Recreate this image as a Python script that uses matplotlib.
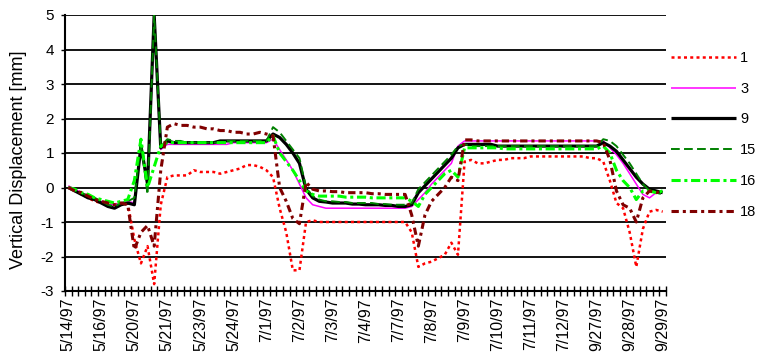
import numpy as np
import matplotlib
matplotlib.use("Agg")
import matplotlib.pyplot as plt

plt.rcParams['font.family'] = ['Liberation Sans', 'DejaVu Sans']

# ---------------- data ----------------
tick_labels = ["5/14/97", "5/16/97", "5/20/97", "5/21/97", "5/23/97", "5/24/97",
               "7/1/97", "7/2/97", "7/3/97", "7/4/97", "7/7/97", "7/8/97",
               "7/9/97", "7/10/97", "7/11/97", "7/12/97", "9/27/97", "9/28/97",
               "9/29/97"]
label_every = 5

series_names = ["1", "3", "9", "15", "16", "18"]

s1 = [0.0, -0.1, -0.2, -0.3, -0.4, -0.45, -0.5, -0.5, -0.45, -0.45,
      -1.5, -2.2, -1.7, -2.8, -0.5, 0.3, 0.35, 0.35, 0.35, 0.5,
      0.45, 0.45, 0.45, 0.4, 0.45, 0.5, 0.55, 0.65, 0.65, 0.6,
      0.5, 0.3, -0.6, -1.3, -2.4, -2.4, -1.0, -0.95, -1.0, -1.0,
      -1.0, -1.0, -1.0, -1.0, -1.0, -1.0, -1.0, -1.0, -1.0, -1.0,
      -1.0, -1.0, -1.3, -2.3, -2.2, -2.15, -2.05, -1.95, -1.6, -1.95,
      0.75, 0.8, 0.7, 0.7, 0.75, 0.8, 0.8, 0.85, 0.85, 0.85,
      0.9, 0.9, 0.9, 0.9, 0.9, 0.9, 0.9, 0.9, 0.9, 0.85,
      0.85, 0.75, 0.2, -0.45, -0.6, -1.3, -2.3, -1.2, -0.7, -0.65,
      -0.7]

s3 = [0.05, -0.05, -0.15, -0.25, -0.35, -0.4, -0.5, -0.5, -0.45, -0.4,
      -0.45, 1.2, 0.1, 4.9, 1.1, 1.25, 1.25, 1.25, 1.25, 1.25,
      1.25, 1.25, 1.25, 1.25, 1.25, 1.3, 1.3, 1.3, 1.3, 1.3,
      1.3, 1.4, 1.1, 0.8, 0.5, 0.1, -0.3, -0.5, -0.55, -0.6,
      -0.6, -0.6, -0.6, -0.6, -0.6, -0.6, -0.6, -0.6, -0.6, -0.6,
      -0.6, -0.6, -0.55, -0.35, -0.15, 0.1, 0.3, 0.5, 0.7, 1.2,
      1.35, 1.35, 1.35, 1.35, 1.35, 1.35, 1.35, 1.35, 1.35, 1.35,
      1.35, 1.35, 1.35, 1.35, 1.35, 1.35, 1.35, 1.35, 1.35, 1.35,
      1.35, 1.35, 1.15, 0.95, 0.7, 0.4, 0.1, -0.2, -0.3, -0.15,
      -0.1]

s9 = [0.0, -0.1, -0.2, -0.3, -0.35, -0.45, -0.55, -0.6, -0.5, -0.45,
      -0.5, 1.2, 0.1, 5.0, 1.15, 1.35, 1.3, 1.3, 1.3, 1.3,
      1.3, 1.3, 1.3, 1.35, 1.35, 1.35, 1.35, 1.35, 1.35, 1.35,
      1.35, 1.55, 1.45, 1.25, 1.0, 0.7, -0.05, -0.3, -0.4, -0.42,
      -0.45, -0.45, -0.45, -0.48, -0.48, -0.5, -0.5, -0.5, -0.52, -0.52,
      -0.55, -0.55, -0.5, -0.15, 0.05, 0.25, 0.45, 0.65, 0.85, 1.15,
      1.25, 1.25, 1.25, 1.25, 1.25, 1.2, 1.2, 1.2, 1.2, 1.2,
      1.2, 1.2, 1.2, 1.2, 1.2, 1.2, 1.2, 1.2, 1.2, 1.2,
      1.2, 1.3, 1.2, 1.05, 0.8, 0.55, 0.3, 0.1, -0.05, -0.1,
      -0.15]

s15 = [0.0, -0.1, -0.15, -0.25, -0.3, -0.4, -0.5, -0.55, -0.45, -0.4,
       -0.3, 1.3, -0.2, 5.0, 1.2, 1.4, 1.35, 1.35, 1.3, 1.3,
       1.3, 1.3, 1.3, 1.3, 1.35, 1.35, 1.35, 1.35, 1.35, 1.35,
       1.35, 1.75, 1.6, 1.35, 1.1, 0.85, 0.0, -0.25, -0.35, -0.4,
       -0.4, -0.42, -0.42, -0.45, -0.45, -0.45, -0.45, -0.48, -0.48, -0.5,
       -0.5, -0.5, -0.45, -0.05, 0.15, 0.35, 0.55, 0.75, 0.95, 1.2,
       1.25, 1.2, 1.2, 1.2, 1.2, 1.2, 1.2, 1.2, 1.2, 1.2,
       1.2, 1.2, 1.2, 1.2, 1.2, 1.2, 1.2, 1.2, 1.2, 1.2,
       1.2, 1.4, 1.35, 1.2, 0.95, 0.7, 0.4, 0.1, -0.1, -0.15,
       -0.2]

s16 = [0.0, -0.05, -0.15, -0.2, -0.3, -0.35, -0.4, -0.45, -0.4, -0.35,
       0.2, 1.4, 0.0, 0.6, 1.2, 1.3, 1.3, 1.3, 1.3, 1.3,
       1.3, 1.3, 1.3, 1.3, 1.3, 1.3, 1.3, 1.3, 1.3, 1.3,
       1.3, 1.5, 1.0, 0.75, 0.5, 0.2, -0.1, -0.2, -0.25, -0.25,
       -0.25, -0.25, -0.28, -0.28, -0.28, -0.28, -0.3, -0.3, -0.3, -0.3,
       -0.3, -0.3, -0.4, -0.55, -0.2, 0.0, 0.2, 0.4, 0.5, 0.3,
       1.15, 1.15, 1.15, 1.15, 1.15, 1.15, 1.12, 1.12, 1.12, 1.12,
       1.12, 1.12, 1.12, 1.12, 1.12, 1.12, 1.12, 1.12, 1.12, 1.12,
       1.12, 1.2, 1.0, 0.5, 0.2, 0.0, -0.35, -0.1, -0.1, -0.15,
       -0.1]

s18 = [0.0, -0.1, -0.15, -0.25, -0.35, -0.4, -0.45, -0.5, -0.45, -0.5,
       -1.8, -1.3, -1.1, -1.7, 0.5, 1.75, 1.85, 1.8, 1.8, 1.75,
       1.75, 1.7, 1.7, 1.65, 1.65, 1.6, 1.6, 1.55, 1.55, 1.6,
       1.55, 1.5, 0.0, -0.4, -0.9, -1.05, 0.15, -0.05, -0.1, -0.1,
       -0.12, -0.12, -0.15, -0.15, -0.15, -0.15, -0.18, -0.18, -0.2, -0.2,
       -0.2, -0.2, -0.8, -1.7, -0.8, -0.4, -0.2, 0.0, 0.3, 0.2,
       1.38, 1.38, 1.35, 1.35, 1.35, 1.35, 1.35, 1.35, 1.35, 1.35,
       1.35, 1.35, 1.35, 1.35, 1.35, 1.35, 1.35, 1.35, 1.35, 1.35,
       1.35, 1.3, 0.8, -0.1, -0.5, -0.6, -1.0, -0.3, -0.1, -0.15,
       -0.1]

series_values = [s1, s3, s9, s15, s16, s18]

# ---------------- styles ----------------
colors = ["#FF0000", "#FF00FF", "#000000", "#008000", "#00FF00", "#800000"]
widths = [1.8, 1.1, 2.3, 1.4, 2.2, 2.2]
styles = [(0, (1.2, 1.3)), "-", "-", (0, (4.5, 2.2)), (0, (3.0, 1.2, 1.0, 1.2)),
          (0, (2.4, 1.3, 1.0, 1.3))]

fig = plt.figure(figsize=(7.58, 3.63), dpi=100)
ax = fig.add_axes([65 / 758, 1 - 291 / 363, 601 / 758, 276 / 363])

n = len(s1)
x = np.arange(n)
for name, vals, c, lw, ls in zip(series_names, series_values, colors, widths, styles):
    ax.plot(x, vals, color=c, lw=lw, linestyle=ls, label=name,
            solid_capstyle="butt", dash_capstyle="butt")

ax.set_xlim(-0.5, n - 0.5)
ax.set_ylim(-3, 5)
ax.set_yticks(range(-3, 6))
ax.set_yticklabels([str(v) for v in range(-3, 6)], fontsize=11)
ax.yaxis.grid(True, color="black", lw=1.3)
ax.set_axisbelow(True)

for s in ["top", "right"]:
    ax.spines[s].set_visible(False)
ax.spines["left"].set_linewidth(1.5)
ax.spines["bottom"].set_linewidth(1.5)

major = np.arange(0, n, label_every)
ax.set_xticks(major)
ax.set_xticklabels(tick_labels, rotation=90, fontsize=11.5)
ax.set_xticks(np.arange(-0.5, n, 1), minor=True)
ax.tick_params(axis="x", which="major", length=0, pad=5)
ax.tick_params(axis="x", which="minor", direction="inout", length=7, width=1)
ax.tick_params(axis="y", direction="out", length=3, width=1, pad=5)

ax.set_ylabel("Vertical Displacement [mm]", fontsize=13)
ax.yaxis.set_label_coords(-0.063, 0.475)

leg = ax.legend(loc="upper left", bbox_to_anchor=(1.008, 0.87), frameon=False,
                fontsize=10.5, handlelength=4.5, handletextpad=0.25,
                labelspacing=1.15, borderpad=0, borderaxespad=0)

fig.savefig("out.png", dpi=100)
